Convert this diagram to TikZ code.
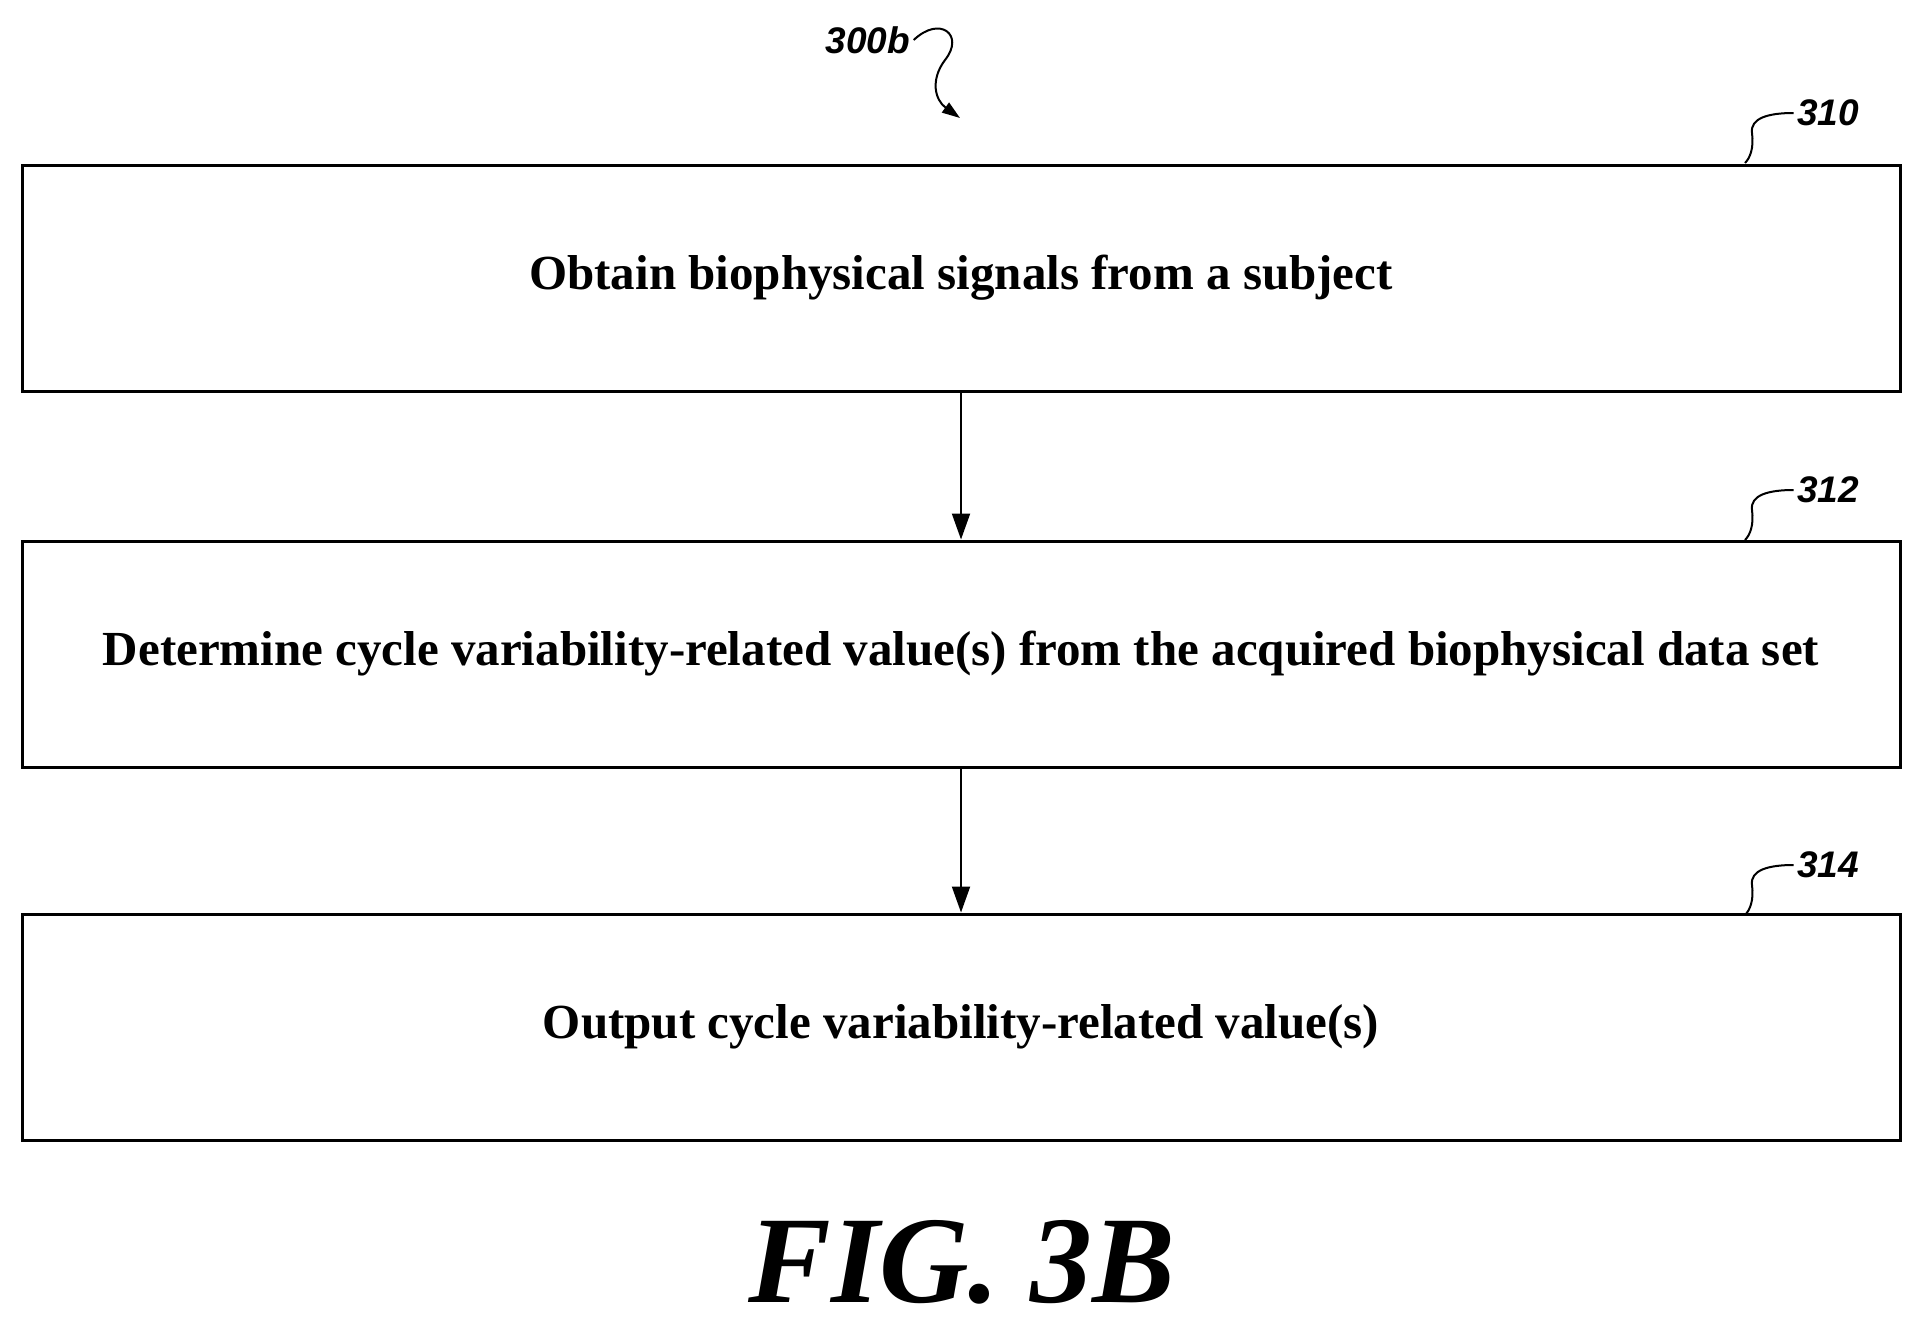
\documentclass[tikz,border=0pt]{standalone}
\usepackage{fontspec}
\setmainfont{Liberation Serif}
\newfontfamily\lblfont{Liberation Sans}
\usetikzlibrary{arrows.meta}
\begin{document}
\begin{tikzpicture}[x=1pt,y=-1pt,
  box/.style={draw,line width=3pt,minimum width=1878pt,minimum height=226pt,inner sep=0pt,font=\fontsize{49}{56}\selectfont\bfseries},
  ref/.style={font=\lblfont\fontsize{37}{40}\selectfont\bfseries\itshape},
  arr/.style={line width=2pt,-{Triangle[length=26pt,width=18pt]}},
  sq/.style={line width=2pt}]
\useasboundingbox (0,0) rectangle (1922,1330);
\node[box] (b1) at (961,278) {Obtain biophysical signals from a subject};
\node[box] (b2) at (961,654) {Determine cycle variability-related value(s) from the acquired biophysical data set};
\node[box] (b3) at (961,1027) {Output cycle variability-related value(s)};
\draw[arr] (b1.south) -- (b2.north);
\draw[arr] (b2.south) -- (b3.north);
\node[ref] (r0) at (868,40) {300b};
\coordinate (a0) at (960,118);
\draw[sq,-{Triangle[length=18pt,width=12pt]}] (r0.east) .. controls (940,15) and (965,35) .. (945,60) .. controls (930,80) and (935,100) .. (a0);
\foreach \n/\y/\t in {1/113/310,2/490/312,3/865/314}{
  \node[ref] (r\n) at (1828,\y) {\t};
  \draw[sq] (r\n.west) .. controls ([xshift=-25pt]r\n.west) and (1750,\y+5) .. (1752,\y+20) .. controls (1754,\y+35) and (1750,\y+45) .. (1745,\y+50);
}
\node[font=\fontsize{124}{130}\selectfont\bfseries\itshape] (fig) at (962,1262) {FIG. 3B};
\end{tikzpicture}
\end{document}
